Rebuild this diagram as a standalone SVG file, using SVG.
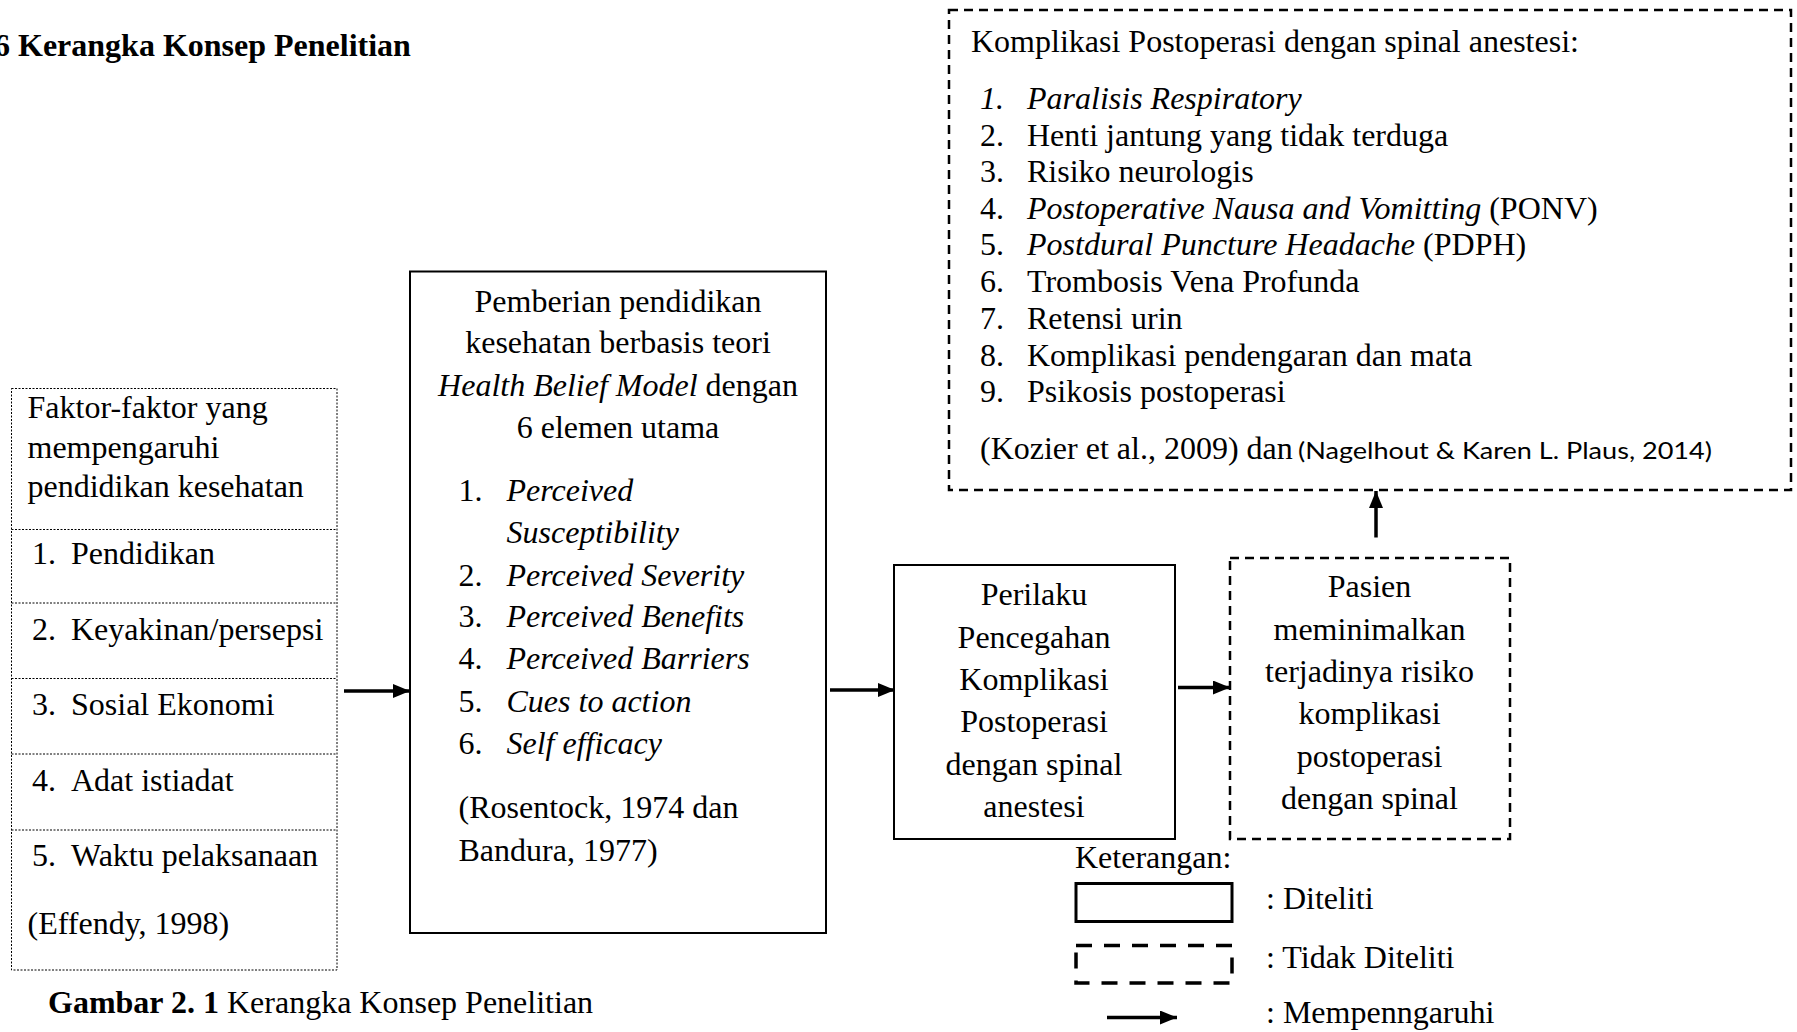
<svg xmlns="http://www.w3.org/2000/svg" width="1797" height="1032" viewBox="0 0 1797 1032">
<defs>
<style>
text{font-family:"Liberation Serif","Times New Roman",serif;font-size:32px;fill:#000}
.b{font-weight:bold}
.i{font-style:italic}
.c{text-anchor:middle}
.solid{fill:none;stroke:#000;stroke-width:2}
.dash{fill:none;stroke:#000;stroke-width:2.5;stroke-dasharray:9 6}
.dot{fill:none;stroke:#000;stroke-width:1;stroke-dasharray:2 1.5}
.conn{fill:none;stroke:#000;stroke-width:3.5}
.sans{font-family:Lato,"Open Sans",sans-serif;font-size:24px}
</style>
<marker id="ah" markerUnits="userSpaceOnUse" markerWidth="17" markerHeight="14" refX="17" refY="7" orient="auto">
<path d="M0,0 L17,7 L0,14 z" fill="#000"/>
</marker>
</defs>
<rect width="1797" height="1032" fill="#fff"/>
<text class="b" x="-6" y="56">6 Kerangka Konsep Penelitian</text>

<g id="komplikasi">
<rect class="dash" x="949" y="10" width="842" height="480"/>
<text x="971" y="52">Komplikasi Postoperasi dengan spinal anestesi:</text>
<text class="i" x="980" y="109">1.</text><text class="i" x="1027" y="109">Paralisis Respiratory</text>
<text x="980" y="145.5">2.</text><text x="1027" y="145.5">Henti jantung yang tidak terduga</text>
<text x="980" y="182">3.</text><text x="1027" y="182">Risiko neurologis</text>
<text x="980" y="219">4.</text><text x="1027" y="219"><tspan class="i">Postoperative Nausa and Vomitting</tspan> (PONV)</text>
<text x="980" y="255">5.</text><text x="1027" y="255"><tspan class="i">Postdural Puncture Headache</tspan> (PDPH)</text>
<text x="980" y="292">6.</text><text x="1027" y="292">Trombosis Vena Profunda</text>
<text x="980" y="329">7.</text><text x="1027" y="329">Retensi urin</text>
<text x="980" y="365.5">8.</text><text x="1027" y="365.5">Komplikasi pendengaran dan mata</text>
<text x="980" y="402">9.</text><text x="1027" y="402">Psikosis postoperasi</text>
<text x="980" y="459">(Kozier et al., 2009) dan</text>
<text class="sans" x="1298" y="459" textLength="414" lengthAdjust="spacingAndGlyphs">(Nagelhout &amp; Karen L. Plaus, 2014)</text>
</g>

<g id="faktor">
<rect class="dot" x="11.5" y="388.5" width="325.5" height="581.5"/>
<line class="dot" x1="11.5" y1="529.5" x2="337" y2="529.5"/>
<line class="dot" x1="11.5" y1="603" x2="337" y2="603"/>
<line class="dot" x1="11.5" y1="678.5" x2="337" y2="678.5"/>
<line class="dot" x1="11.5" y1="754" x2="337" y2="754"/>
<line class="dot" x1="11.5" y1="830" x2="337" y2="830"/>
<text x="27.5" y="418">Faktor-faktor yang</text>
<text x="27.5" y="458">mempengaruhi</text>
<text x="27.5" y="497">pendidikan kesehatan</text>
<text x="32" y="564">1.</text><text x="71" y="564">Pendidikan</text>
<text x="32" y="639.5">2.</text><text x="71" y="639.5">Keyakinan/persepsi</text>
<text x="32" y="715">3.</text><text x="71" y="715">Sosial Ekonomi</text>
<text x="32" y="791">4.</text><text x="71" y="791">Adat istiadat</text>
<text x="32" y="866">5.</text><text x="71" y="866">Waktu pelaksanaan</text>
<text x="27.5" y="934">(Effendy, 1998)</text>
</g>

<g id="pendidikan">
<rect class="solid" x="410" y="271.5" width="416" height="661.5"/>
<text class="c" x="618" y="312">Pemberian pendidikan</text>
<text class="c" x="618" y="353">kesehatan berbasis teori</text>
<text class="c" x="618" y="395.5"><tspan class="i">Health Belief Model</tspan> dengan</text>
<text class="c" x="618" y="438">6 elemen utama</text>
<text x="458.5" y="501">1.</text><text class="i" x="506.5" y="501">Perceived</text>
<text class="i" x="506.5" y="543">Susceptibility</text>
<text x="458.5" y="585.5">2.</text><text class="i" x="506.5" y="585.5">Perceived Severity</text>
<text x="458.5" y="627">3.</text><text class="i" x="506.5" y="627">Perceived Benefits</text>
<text x="458.5" y="669">4.</text><text class="i" x="506.5" y="669">Perceived Barriers</text>
<text x="458.5" y="711.5">5.</text><text class="i" x="506.5" y="711.5">Cues to action</text>
<text x="458.5" y="754">6.</text><text class="i" x="506.5" y="754">Self efficacy</text>
<text x="458.5" y="818">(Rosentock, 1974 dan</text>
<text x="458.5" y="860.5">Bandura, 1977)</text>
</g>

<g id="perilaku">
<rect class="solid" x="894" y="565" width="281" height="274"/>
<text class="c" x="1034" y="605">Perilaku</text>
<text class="c" x="1034" y="647.5">Pencegahan</text>
<text class="c" x="1034" y="690">Komplikasi</text>
<text class="c" x="1034" y="732">Postoperasi</text>
<text class="c" x="1034" y="775">dengan spinal</text>
<text class="c" x="1034" y="817">anestesi</text>
</g>

<g id="pasien">
<rect class="dash" x="1230" y="558" width="280" height="281"/>
<text class="c" x="1369.5" y="597">Pasien</text>
<text class="c" x="1369.5" y="639.5">meminimalkan</text>
<text class="c" x="1369.5" y="682">terjadinya risiko</text>
<text class="c" x="1369.5" y="724">komplikasi</text>
<text class="c" x="1369.5" y="767">postoperasi</text>
<text class="c" x="1369.5" y="809">dengan spinal</text>
</g>

<g id="connectors">
<line class="conn" x1="344" y1="691" x2="410" y2="691" marker-end="url(#ah)"/>
<line class="conn" x1="830" y1="690" x2="895" y2="690" marker-end="url(#ah)"/>
<line class="conn" x1="1178" y1="687.5" x2="1230" y2="687.5" marker-end="url(#ah)"/>
<line class="conn" x1="1376" y1="537.5" x2="1376" y2="491" marker-end="url(#ah)"/>
</g>

<g id="legend">
<text x="1075" y="867.5">Keterangan:</text>
<rect x="1076" y="883.5" width="156" height="38" fill="none" stroke="#000" stroke-width="3"/>
<text x="1266" y="909">: Diteliti</text>
<rect x="1076" y="945.5" width="156" height="37.5" fill="none" stroke="#000" stroke-width="3.5" stroke-dasharray="16 12"/>
<text x="1266" y="968">: Tidak Diteliti</text>
<line class="conn" x1="1107" y1="1017.5" x2="1177" y2="1017.5" marker-end="url(#ah)"/>
<text x="1266" y="1023">: Mempenngaruhi</text>
</g>

<text x="48" y="1013"><tspan class="b">Gambar 2. 1</tspan> Kerangka Konsep Penelitian</text>
</svg>
